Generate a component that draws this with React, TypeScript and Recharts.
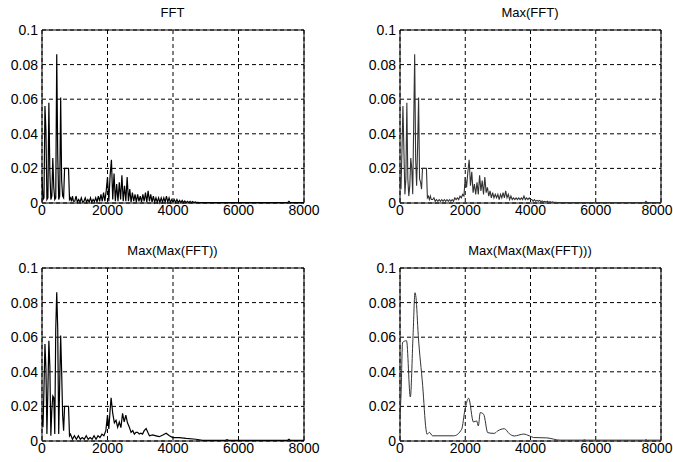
import { LineChart, Line, XAxis, YAxis, CartesianGrid, ReferenceArea } from "recharts";

// frequency grid shared by FFT and Max(FFT)
const fftFreq = [
	0, 30, 60, 90, 120, 150, 180, 210, 240, 270, 300, 330, 360, 390, 420, 450, 480, 510, 540, 570, 600, 630, 660, 690,
	720, 750, 780, 810, 840, 870, 900, 930, 960,
	1000, 1040, 1080, 1120, 1160, 1200, 1240, 1280, 1320, 1360, 1400, 1440, 1480, 1520, 1560, 1600, 1640, 1680, 1720,
	1760, 1800, 1840, 1880, 1920, 1960,
	2000, 2040, 2080, 2120, 2160, 2200, 2240, 2280, 2320, 2360, 2400, 2440, 2480, 2520, 2560, 2600, 2640, 2680, 2720,
	2760, 2800, 2840, 2880, 2920, 2960,
	3000, 3040, 3080, 3120, 3160, 3200, 3240, 3280, 3320, 3360, 3400, 3440, 3480, 3520, 3560, 3600, 3640, 3680, 3720,
	3760, 3800, 3840, 3880, 3920, 3960,
	4000, 4040, 4080, 4120, 4160, 4200, 4240, 4280, 4320, 4360, 4400, 4440, 4480, 4520, 4560, 4600, 4640, 4680, 4720,
	4760, 4800,
	5000, 6000, 7000, 7500, 7540, 7580, 8000,
];

const fftValues = [
	0.015, 0.002, 0.003, 0.056, 0.042, 0.002, 0.003, 0.058, 0.018, 0.002, 0.004, 0.026, 0.009, 0.002, 0.003, 0.086,
	0.028, 0.002, 0.004, 0.061, 0.013, 0.004, 0.003, 0.02, 0.02, 0.02, 0.02, 0.02, 0.002, 0.003, 0.001, 0.004, 0.001,
	0.001, 0.004, 0.0005, 0.002, 0.0005, 0.003, 0.0005, 0.001, 0.003, 0.0005, 0.002, 0.0005, 0.003, 0.0005, 0.002,
	0.0008, 0.003, 0.0005, 0.004, 0.001, 0.005, 0.001, 0.006, 0.001, 0.007,
	0.015, 0.001, 0.016, 0.025, 0.002, 0.017, 0.001, 0.011, 0.001, 0.012, 0.002, 0.016, 0.001, 0.01, 0.001, 0.015,
	0.001, 0.008, 0.0005, 0.006, 0.001, 0.005, 0.0005, 0.005, 0.001,
	0.004, 0.0005, 0.005, 0.001, 0.006, 0.0005, 0.007, 0.001, 0.005, 0.0005, 0.004, 0.0005, 0.003, 0.0005, 0.003,
	0.0003, 0.003, 0.0005, 0.003, 0.0005, 0.004, 0.0005, 0.003, 0.0003, 0.002,
	0.0005, 0.002, 0.0003, 0.002, 0.0003, 0.0015, 0.0002, 0.0015, 0.0002, 0.0012, 0.0002, 0.001, 0.0002, 0.001, 0.0002,
	0.0008, 0.0002, 0.0006, 0.0002, 0.0004, 0.0002,
	0.0002, 0.0002, 0.0002, 0.0002, 0.001, 0.0002, 0.0002,
];

const maxFftValues = [
	0.015, 0.008, 0.03, 0.056, 0.03, 0.005, 0.014, 0.058, 0.014, 0.004, 0.01, 0.026, 0.02, 0.005, 0.046, 0.086, 0.025,
	0.01, 0.033, 0.061, 0.014, 0.012, 0.008, 0.02, 0.02, 0.02, 0.02, 0.02, 0.003, 0.004, 0.002, 0.004, 0.002,
	0.002, 0.003, 0.001, 0.002, 0.001, 0.002, 0.001, 0.002, 0.001, 0.002, 0.001, 0.002, 0.001, 0.002, 0.001, 0.002,
	0.001, 0.003, 0.002, 0.003, 0.002, 0.004, 0.003, 0.005, 0.004,
	0.015, 0.009, 0.018, 0.025, 0.01, 0.018, 0.006, 0.011, 0.005, 0.012, 0.005, 0.016, 0.007, 0.013, 0.005, 0.015,
	0.006, 0.009, 0.004, 0.007, 0.003, 0.006, 0.003, 0.005, 0.003,
	0.005, 0.002, 0.005, 0.003, 0.006, 0.003, 0.007, 0.003, 0.005, 0.002, 0.004, 0.002, 0.003, 0.002, 0.003, 0.002,
	0.003, 0.002, 0.003, 0.002, 0.004, 0.002, 0.003, 0.002, 0.003,
	0.002, 0.002, 0.001, 0.002, 0.001, 0.0015, 0.001, 0.0015, 0.0008, 0.0012, 0.0006, 0.001, 0.0005, 0.001, 0.0004,
	0.0008, 0.0003, 0.0006, 0.0003, 0.0004, 0.0002,
	0.0002, 0.0002, 0.0002, 0.0002, 0.001, 0.0002, 0.0002,
];

const max2Freq = [
	0, 30, 60, 90, 120, 150, 180, 210, 240, 270, 300, 330, 360, 390, 420, 450, 480, 510, 540, 570, 600, 630, 660, 690,
	810, 840,
	870, 930, 990, 1050, 1110, 1170, 1230, 1290, 1350, 1410, 1470, 1530, 1590, 1650, 1710, 1770, 1830, 1890, 1950,
	2000, 2040, 2080, 2110, 2160, 2210, 2260, 2310, 2360, 2410, 2460, 2510, 2560, 2610, 2670, 2720, 2770, 2820, 2870,
	2920, 2970, 3020, 3070, 3120, 3180, 3230, 3280, 3380, 3480, 3580, 3690, 3790, 3890, 3990, 4190, 4400, 4700, 4900,
	5600, 5650, 5700, 7500, 7540, 7580, 8000,
];

const max2Values = [
	0.015, 0.008, 0.03, 0.056, 0.042, 0.004, 0.03, 0.058, 0.043, 0.003, 0.018, 0.026, 0.025, 0.004, 0.065, 0.086, 0.065,
	0.004, 0.033, 0.061, 0.04, 0.015, 0.006, 0.02, 0.02, 0.003,
	0.004, 0.001, 0.003, 0.001, 0.003, 0.001, 0.002, 0.001, 0.003, 0.001, 0.002, 0.001, 0.003, 0.001, 0.003, 0.002,
	0.004, 0.003, 0.006,
	0.015, 0.007, 0.018, 0.025, 0.016, 0.0105, 0.012, 0.008, 0.011, 0.0077, 0.016, 0.011, 0.015, 0.0105, 0.0078, 0.005,
	0.006, 0.004, 0.005, 0.005, 0.004, 0.0045, 0.004, 0.006, 0.0072, 0.005, 0.003, 0.0035, 0.003, 0.0025, 0.0035,
	0.0045, 0.003, 0.002, 0.002, 0.0015, 0.001, 0.0004,
	0.0004, 0.0008, 0.0004, 0.0004, 0.001, 0.0004, 0.0004,
];

const max3Freq = [
	0, 30, 80, 200, 317, 400, 460, 490, 560, 695, 797, 827, 900, 1000, 1650, 1890, 1990, 2105, 2250, 2350, 2400, 2460,
	2565, 2690, 2890, 2990, 3200, 3350, 3500, 3790, 3965, 4100, 4500, 4900, 5600, 5650, 5700, 7500, 7540, 7580, 8000,
];

const max3Values = [
	0.0145, 0.026, 0.057, 0.058, 0.0254, 0.061, 0.0857, 0.083, 0.061, 0.032, 0.0068, 0.0039, 0.005, 0.003, 0.003,
	0.0068, 0.018, 0.0247, 0.011, 0.0116, 0.0087, 0.0164, 0.0154, 0.0048, 0.0044, 0.0058, 0.0071, 0.0042, 0.0029,
	0.004, 0.003, 0.002, 0.0018, 0.0005, 0.0005, 0.0008, 0.0005, 0.0005, 0.001, 0.0005, 0.0005,
];

const xTicks = [0, 2000, 4000, 6000, 8000];
const yTicks = [0, 0.02, 0.04, 0.06, 0.08, 0.1];

const toRows = (f: number[], v: number[]) => f.map((x, i) => ({ f: x, v: v[i] }));

type PanelProps = {
	title: string;
	rows: { f: number; v: number }[];
	left: number;
	top: number;
	width: number;
	curve: "linear" | "monotone";
	stroke: string;
	strokeWidth: number;
	lastShift?: number;
};

const PLOT_H = 173;

// x tick, the last label can be nudged in so it stays on the page
const XTick = ({ x, y, payload, lastShift }: any) => (
	<text
		x={x + (payload.value === 8000 ? -(lastShift || 0) : 0)}
		y={y}
		dy="0.71em"
		textAnchor="middle"
		fill="#000"
		fontSize={14}
	>
		{payload.value}
	</text>
);

const Panel = ({ title, rows, left, top, width, curve, stroke, strokeWidth, lastShift }: PanelProps) => {
	return (
		<div style={{ position: "absolute", left: left - 45, top: top - 30 }}>
			<div
				style={{
					position: "absolute",
					left: 45,
					top: 6,
					width,
					textAlign: "center",
					fontSize: 13,
					lineHeight: "14px",
				}}
			>
				{title}
			</div>
			<LineChart
				width={width + 75}
				height={PLOT_H + 55}
				data={rows}
				margin={{ top: 30, right: 30, bottom: 5, left: 5 }}
			>
				<CartesianGrid stroke="#000" strokeDasharray="4 3" />
				<XAxis
					type="number"
					dataKey="f"
					domain={[0, 8000]}
					ticks={xTicks}
					interval={0}
					height={20}
					tickLine={false}
					axisLine={false}
					tickSize={0}
					tickMargin={2}
					tick={<XTick lastShift={lastShift} />}
				/>
				<YAxis
					type="number"
					domain={[0, 0.1]}
					ticks={yTicks}
					interval={0}
					width={40}
					tickLine={false}
					axisLine={false}
					tickSize={0}
					tickMargin={4}
					tick={{ fill: "#000", fontSize: 14 }}
				/>
				<Line
					dataKey="v"
					type={curve}
					stroke={stroke}
					strokeWidth={strokeWidth}
					dot={false}
					isAnimationActive={false}
				/>
				<ReferenceArea x1={0} x2={8000} y1={0} y2={0.1} fill="none" stroke="#000" strokeWidth={1} />
			</LineChart>
		</div>
	);
};

export default function App() {
	return (
		<div
			style={{
				position: "absolute",
				left: 0,
				top: 0,
				width: 673,
				height: 462,
				overflow: "hidden",
				background: "#fff",
				fontFamily: "'Liberation Sans', Arial, sans-serif",
			}}
		>
			<Panel title="FFT" rows={toRows(fftFreq, fftValues)} left={41.5} top={29.5} width={262}
				curve="linear" stroke="#000" strokeWidth={1.2} />
			<Panel title="Max(FFT)" rows={toRows(fftFreq, maxFftValues)} left={399.5} top={29.5} width={261}
				curve="linear" stroke="#333" strokeWidth={1.1} lastShift={4} />
			<Panel title="Max(Max(FFT))" rows={toRows(max2Freq, max2Values)} left={41.5} top={267.5} width={262}
				curve="linear" stroke="#000" strokeWidth={1.2} />
			<Panel title="Max(Max(Max(FFT)))" rows={toRows(max3Freq, max3Values)} left={399.5} top={267.5} width={261}
				curve="monotone" stroke="#333" strokeWidth={1} lastShift={4} />
		</div>
	);
}
